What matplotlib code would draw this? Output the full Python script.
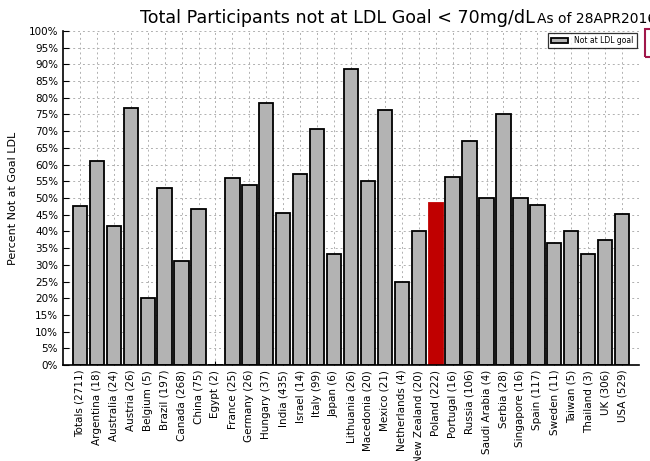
import numpy as np
import matplotlib
matplotlib.use('Agg')
import matplotlib.pyplot as plt
from matplotlib.patches import Rectangle

# data
countries = ['Totals', 'Argentina', 'Australia', 'Austria', 'Belgium', 'Brazil',
             'Canada', 'China', 'Egypt', 'France', 'Germany', 'Hungary', 'India',
             'Israel', 'Italy', 'Japan', 'Lithuania', 'Macedonia', 'Mexico',
             'Netherlands', 'New Zealand', 'Poland', 'Portugal', 'Russia',
             'Saudi Arabia', 'Serbia', 'Singapore', 'Spain', 'Sweden', 'Taiwan',
             'Thailand', 'UK', 'USA']
counts = [2711, 18, 24, 26, 5, 197, 268, 75, 2, 25, 26, 37, 435, 14, 99, 6, 26,
          20, 21, 4, 20, 222, 16, 106, 4, 28, 16, 117, 11, 5, 3, 306, 529]
pct_not_goal = [47.7, 61.1, 41.7, 76.9, 20.0, 53.0, 31.0, 46.7, 0.0, 56.0, 53.8,
                78.4, 45.5, 57.1, 70.7, 33.3, 88.5, 55.0, 76.2, 25.0, 40.0, 48.6,
                56.3, 67.0, 50.0, 75.0, 50.0, 47.9, 36.4, 40.0, 33.3, 37.3, 45.2]
highlight = 'Poland'

labels = ['%s (%d)' % (c, n) for c, n in zip(countries, counts)]
x = np.arange(len(countries))

fig = plt.figure(figsize=(6.5, 4.61), dpi=100)
ax = fig.add_axes([63 / 650, 1 - 365 / 461, 576 / 650, 334 / 461])

colors = ['#c00000' if c == highlight else '#b3b3b3' for c in countries]
edges = ['#c00000' if c == highlight else 'black' for c in countries]
ax.bar(x, pct_not_goal, width=0.85, color=colors, edgecolor=edges,
       linewidth=1.3, label='Not at LDL goal', zorder=2)

ax.set_xlim(-1, len(countries))
ax.set_ylim(0, 100)
ax.set_yticks(np.arange(0, 101, 5))
ax.set_yticklabels(['%d%%' % v for v in range(0, 101, 5)], fontsize=7.5)
ax.set_xticks(x)
ax.set_xticklabels(labels, rotation=90, fontsize=7.5)
ax.tick_params(direction='in', length=4, width=0.8)
ax.tick_params(axis='x', length=3)
ax.set_ylabel('Percent Not at Goal LDL', fontsize=8, labelpad=8)

ax.grid(True, linestyle=(0, (2, 3)), color='#b0b0b0', linewidth=0.7, zorder=0)
ax.set_axisbelow(True)
for s in ['top', 'right']:
    ax.spines[s].set_visible(False)
ax.spines['left'].set_linewidth(1.2)
ax.spines['bottom'].set_linewidth(1.2)

leg = ax.legend(loc='upper right', fontsize=5.5, fancybox=False,
                borderaxespad=0.3, handlelength=2.2)
leg.get_frame().set_edgecolor('black')
leg.get_frame().set_linewidth(0.9)

fig.text(337 / 650, 1 - 23 / 461, 'Total Participants not at LDL Goal < 70mg/dL',
         ha='center', va='baseline', fontsize=12.6)
fig.text(537 / 650, 1 - 23 / 461, 'As of 28APR2016', ha='left', va='baseline',
         fontsize=10)

# partly visible box at the right edge
fig.patches.append(Rectangle((645 / 650, 1 - 57 / 461), 20 / 650, 28 / 461,
                             transform=fig.transFigure, fill=False,
                             edgecolor='#a0174a', linewidth=1.5))

fig.savefig('out.png', dpi=100)
